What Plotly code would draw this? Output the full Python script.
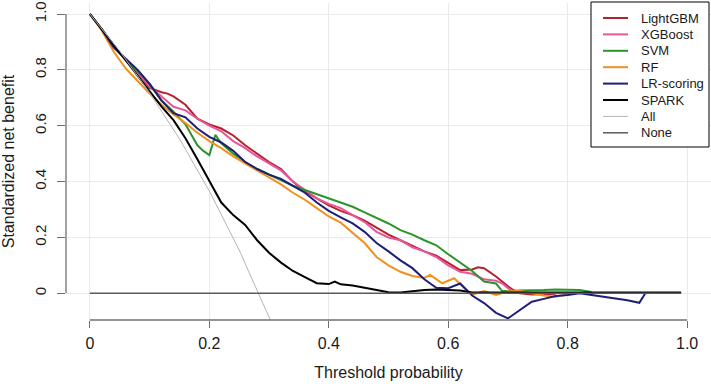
import plotly.graph_objects as go

# ---------------- data ----------------
t_lgbm = [0, 0.02, 0.04, 0.06, 0.08, 0.10, 0.12, 0.13, 0.14, 0.16, 0.18, 0.20, 0.22, 0.24, 0.26, 0.28,
          0.30, 0.32, 0.34, 0.36, 0.38, 0.40, 0.42, 0.44, 0.46, 0.48, 0.50, 0.52, 0.54, 0.56, 0.58,
          0.60, 0.62, 0.64, 0.65, 0.66, 0.68, 0.70, 0.71, 0.72, 0.74, 0.76, 0.78]
nb_lgbm = [1, 0.945, 0.885, 0.835, 0.79, 0.735, 0.72, 0.715, 0.705, 0.675, 0.625, 0.605, 0.59, 0.565,
           0.53, 0.50, 0.47, 0.445, 0.40, 0.365, 0.34, 0.315, 0.295, 0.28, 0.26, 0.235, 0.21, 0.19,
           0.17, 0.15, 0.135, 0.11, 0.083, 0.085, 0.093, 0.09, 0.06, 0.025, 0.01, 0.0, -0.004, -0.003,
           -0.002]

t_xgb = [0, 0.02, 0.04, 0.06, 0.08, 0.10, 0.12, 0.14, 0.16, 0.18, 0.20, 0.22, 0.24, 0.26, 0.28, 0.30,
         0.32, 0.34, 0.36, 0.38, 0.40, 0.42, 0.44, 0.46, 0.48, 0.50, 0.52, 0.54, 0.56, 0.58, 0.60,
         0.62, 0.64, 0.66, 0.68, 0.69, 0.70, 0.71, 0.72, 0.74, 0.76]
nb_xgb = [1, 0.945, 0.885, 0.835, 0.79, 0.74, 0.705, 0.668, 0.655, 0.625, 0.60, 0.58, 0.545, 0.52,
          0.49, 0.465, 0.44, 0.40, 0.37, 0.34, 0.32, 0.305, 0.28, 0.255, 0.22, 0.20, 0.19, 0.165,
          0.15, 0.13, 0.10, 0.077, 0.07, 0.05, 0.045, 0.036, 0.018, 0.006, 0.002, 0.0, 0.0]

t_svm = [0, 0.02, 0.04, 0.06, 0.08, 0.10, 0.12, 0.14, 0.16, 0.18, 0.19, 0.20, 0.21, 0.22, 0.24, 0.26,
         0.28, 0.30, 0.32, 0.34, 0.36, 0.38, 0.40, 0.42, 0.44, 0.46, 0.48, 0.50, 0.52, 0.54, 0.56,
         0.58, 0.60, 0.62, 0.64, 0.66, 0.68, 0.69, 0.70, 0.72, 0.74, 0.76, 0.78, 0.80, 0.82, 0.84]
nb_svm = [1, 0.945, 0.885, 0.835, 0.795, 0.75, 0.69, 0.65, 0.605, 0.53, 0.51, 0.495, 0.567, 0.537,
          0.50, 0.47, 0.445, 0.425, 0.405, 0.385, 0.37, 0.355, 0.34, 0.325, 0.31, 0.29, 0.27, 0.25,
          0.226, 0.21, 0.19, 0.172, 0.14, 0.11, 0.08, 0.042, 0.035, 0.009, 0.008, 0.01, 0.01, 0.012,
          0.014, 0.013, 0.012, 0.005]

t_rf = [0, 0.02, 0.04, 0.06, 0.08, 0.10, 0.12, 0.14, 0.16, 0.18, 0.20, 0.22, 0.24, 0.26, 0.28, 0.30,
        0.32, 0.34, 0.36, 0.38, 0.40, 0.42, 0.44, 0.46, 0.48, 0.50, 0.52, 0.54, 0.56, 0.57, 0.59,
        0.61, 0.63, 0.64, 0.66, 0.68, 0.70, 0.72, 0.74, 0.76, 0.78, 0.80]
nb_rf = [1, 0.94, 0.865, 0.805, 0.76, 0.715, 0.675, 0.64, 0.61, 0.575, 0.545, 0.52, 0.49, 0.465, 0.44,
         0.415, 0.39, 0.36, 0.335, 0.305, 0.275, 0.253, 0.215, 0.18, 0.13, 0.10, 0.077, 0.062, 0.055,
         0.066, 0.036, 0.054, 0.012, -0.005, 0.008, -0.006, 0.007, 0.008, 0.0, -0.008, -0.012, -0.004]

t_lr = [0, 0.02, 0.04, 0.06, 0.08, 0.10, 0.12, 0.14, 0.16, 0.18, 0.20, 0.22, 0.24, 0.26, 0.28, 0.30,
        0.32, 0.34, 0.36, 0.38, 0.40, 0.42, 0.44, 0.46, 0.48, 0.50, 0.52, 0.54, 0.56, 0.58, 0.60,
        0.62, 0.64, 0.66, 0.68, 0.70, 0.72, 0.74, 0.76, 0.78, 0.80, 0.82, 0.84, 0.86, 0.88, 0.90,
        0.92, 0.93]
nb_lr = [1, 0.945, 0.88, 0.84, 0.80, 0.75, 0.69, 0.645, 0.63, 0.59, 0.56, 0.54, 0.51, 0.47, 0.445,
         0.425, 0.41, 0.385, 0.36, 0.325, 0.295, 0.272, 0.25, 0.22, 0.18, 0.15, 0.118, 0.09, 0.05,
         0.02, 0.018, 0.035, -0.008, -0.035, -0.07, -0.09, -0.06, -0.03, -0.02, -0.01, -0.006, 0.0,
         -0.006, -0.012, -0.018, -0.025, -0.034, 0.0]

t_spark = [0, 0.02, 0.04, 0.06, 0.08, 0.10, 0.12, 0.14, 0.16, 0.18, 0.20, 0.22, 0.24, 0.26, 0.28,
           0.30, 0.32, 0.34, 0.36, 0.38, 0.40, 0.41, 0.42, 0.44, 0.46, 0.48, 0.50, 0.52, 0.54, 0.56,
           0.58, 0.60, 0.62, 0.64, 0.66, 0.70, 0.80, 0.90, 0.99]
nb_spark = [1, 0.945, 0.89, 0.835, 0.78, 0.725, 0.668, 0.62, 0.555, 0.48, 0.40, 0.325, 0.28, 0.245,
            0.19, 0.145, 0.11, 0.08, 0.058, 0.036, 0.033, 0.042, 0.032, 0.028, 0.02, 0.012, 0.004,
            0.003, 0.008, 0.012, 0.014, 0.012, 0.01, 0.003, 0.003, 0.004, 0.003, 0.003, 0.003]

t_all = [0, 0.05, 0.10, 0.15, 0.20, 0.25, 0.28, 0.30, 0.32]
nb_all = [1, 0.867, 0.718, 0.553, 0.366, 0.155, 0.01, -0.086, -0.18]

t_none = [0, 0.99]
nb_none = [0, 0]

x_ticks = [0, 0.2, 0.4, 0.6, 0.8, 1.0]
x_tick_labels = ["0", "0.2", "0.4", "0.6", "0.8", "1.0"]
y_ticks = [0, 0.2, 0.4, 0.6, 0.8, 1.0]
y_tick_labels = ["0", "0.2", "0.4", "0.6", "0.8", "1.0"]

series = [
    ("LightGBM", t_lgbm, nb_lgbm, "#B3222E", 2),
    ("XGBoost", t_xgb, nb_xgb, "#E8559C", 2),
    ("SVM", t_svm, nb_svm, "#2B952B", 2),
    ("RF", t_rf, nb_rf, "#F2901C", 2),
    ("LR-scoring", t_lr, nb_lr, "#1E1E78", 2),
    ("SPARK", t_spark, nb_spark, "#000000", 2),
    ("All", t_all, nb_all, "#B4B4B4", 1),
    ("None", t_none, nb_none, "#5A5A5A", 1.5),
]

W, H = 711, 387
ML, MR, MT, MB = 66, 0, 3, 67
PW, PH = W - ML - MR, H - MT - MB


def px_x(p):
    return (p - ML) / PW


def px_y(p):
    return (H - MB - p) / PH


fig = go.Figure()
for name, xs, ys, col, w in series:
    fig.add_trace(go.Scatter(x=xs, y=ys, mode="lines", name=name,
                             line=dict(color=col, width=w), showlegend=False))

axis_col = "#707070"
font_family = "Liberation Sans, Arial, sans-serif"

fig.update_layout(
    width=W, height=H,
    margin=dict(l=ML, r=MR, t=MT, b=MB, autoexpand=False),
    paper_bgcolor="white", plot_bgcolor="white",
    font=dict(family=font_family, color="#1a1a1a", size=16),
    showlegend=False,
    xaxis=dict(range=[-0.04, 1.04], tickmode="array", tickvals=x_ticks, ticktext=x_tick_labels,
               showgrid=True, gridcolor="#EAEAEA", gridwidth=1, zeroline=False, automargin=False,
               showline=False, ticks="outside", ticklen=7, tickcolor=axis_col, tickwidth=1.3,
               tickfont=dict(size=16), ticklabelstandoff=2,
               title=dict(text="Threshold probability", font=dict(size=16), standoff=15)),
    yaxis=dict(range=[-0.0956, 1.0394], tickmode="array", tickvals=y_ticks, ticktext=y_tick_labels,
               showgrid=True, gridcolor="#EAEAEA", gridwidth=1, zeroline=False, automargin=False,
               showline=False, ticks="outside", ticklen=8, tickcolor=axis_col, tickwidth=1.3,
               tickangle=-90, tickfont=dict(size=15), ticklabelstandoff=5,
               title=dict(text="Standardized net benefit", font=dict(size=16), standoff=16)),
)

# R-style axis lines spanning only the tick range
fig.add_shape(type="line", xref="x", yref="paper", x0=0, x1=1, y0=0, y1=0,
              line=dict(color=axis_col, width=1.3))
fig.add_shape(type="line", xref="paper", yref="y", x0=0, x1=0, y0=0, y1=1,
              line=dict(color=axis_col, width=1.3))

# R-style legend box (drawn in pixel-derived paper coordinates)
fig.add_shape(type="rect", xref="paper", yref="paper",
              x0=px_x(591), x1=px_x(709), y0=px_y(147), y1=px_y(2),
              line=dict(color="#000000", width=1), fillcolor="white", layer="above")
for i, (name, xs, ys, col, w) in enumerate(series):
    yc = 18 + 16.4 * i
    fig.add_shape(type="line", xref="paper", yref="paper",
                  x0=px_x(603), x1=px_x(628), y0=px_y(yc), y1=px_y(yc),
                  line=dict(color=col, width=w), layer="above")
    fig.add_annotation(xref="paper", yref="paper", x=px_x(639), y=px_y(yc),
                       xanchor="left", yanchor="middle", text=name, showarrow=False,
                       font=dict(size=13, family=font_family, color="#1a1a1a"))

# remove the browser's default 8px page margin so the figure sits at the window origin
fig.write_html("out.html", config={"displayModeBar": False},
               post_script="document.body.style.margin='0px';")
